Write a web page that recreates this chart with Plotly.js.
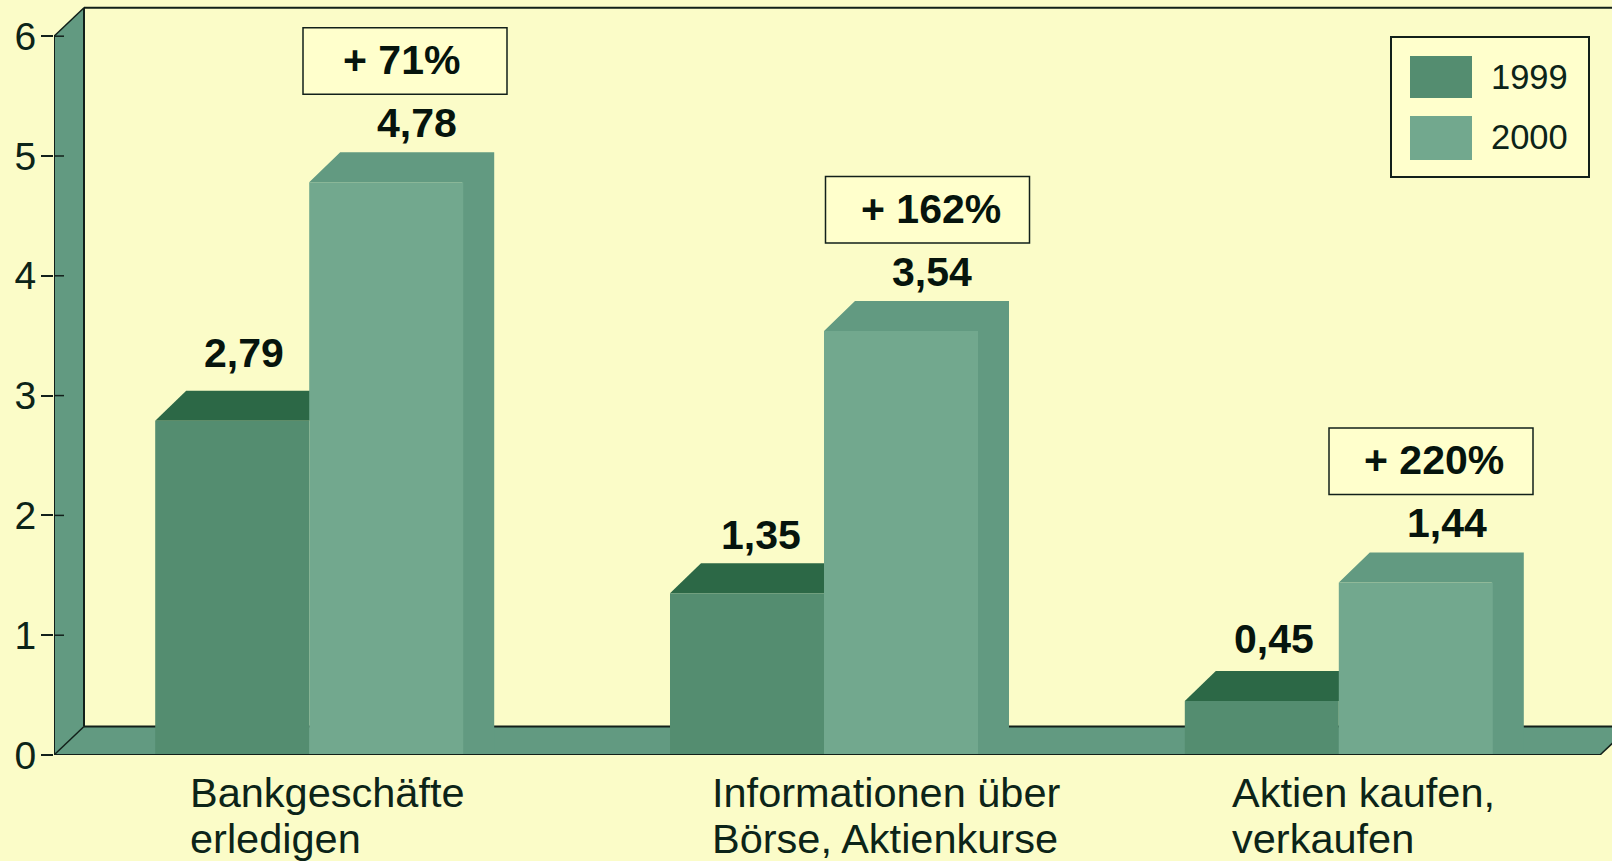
<!DOCTYPE html>
<html><head><meta charset="utf-8">
<script src="https://cdn.plot.ly/plotly-3.0.1.min.js"></script>
<style>html,body{margin:0;padding:0;background:#fbfcc8}</style></head>
<body><div id="chart" style="width:1612px;height:861px"></div>
<script>
const categories = ['Bankgeschäfte<br>erledigen', 'Informationen über<br>Börse, Aktienkurse', 'Aktien kaufen,<br>verkaufen'];
const years = ['1999', '2000'];
const values1999 = [2.79, 1.35, 0.45];
const values2000 = [4.78, 3.54, 1.44];
const changes = ['+ 71%', '+ 162%', '+ 220%'];
const yTicks = [0, 1, 2, 3, 4, 5, 6];

const W = 1612, H = 861, L = 54, T = 0, B = 106;
const yUnit = 119.8, xUnit = 514.8, x0px = 309.2;
const dx = 30 / xUnit, dy = 28.5 / yUnit, barDx = 31 / xUnit, barDy = 30 / yUnit, barW = 154 / xUnit;
const xMin = (L - x0px) / xUnit, xMax = (W - x0px) / xUnit;
const yMax = (H - B - T) / yUnit;
const px = v => xMin + (v - L) / xUnit;
const C = {bg:'#fbfcc8', box:'#ffffcc', wall:'#629a81', front99:'#548d70', top99:'#2c6846', front00:'#72a88e', ink:'#0c2418', line:'#12201a'};
const labelLeft = [187.5, 710, 1230];
const boxLeft = [303, 825.5, 1329];
const boxTextShift = [-4, 3, 3];
const label99Lift = [8, -2, 2];
const label99Shift = [12, 14, 12];

function poly(pts, fill, layer) {
  return {type:'path', xref:'x', yref:'y', layer:layer||'below', fillcolor:fill, line:{width:0},
    path:'M' + pts.map(p => p[0] + ',' + p[1]).join(' L') + ' Z'};
}
function seg(x1, y1, x2, y2, w, layer) {
  return {type:'line', xref:'x', yref:'y', layer:layer||'below', x0:x1, y0:y1, x1:x2, y1:y2, line:{color:C.line, width:w||2}};
}
const shapes = [];
const xa = px(L), xb = xa + dx, xe = px(1600);
shapes.push(poly([[xa,0],[xa,6],[xb,6+dy],[xb,dy]], C.wall));
shapes.push(poly([[xa,0],[xb,dy],[xe+dx,dy],[xe,0]], C.wall));
shapes.push(seg(xb, dy, xb, 6 + dy), seg(xb, 6 + dy, xMax, 6 + dy));
shapes.push(seg(xb, dy, xMax, dy), seg(xa, 6, xb, 6 + dy, 1.5), seg(xa, 0, xb, dy, 1.5), seg(xe, 0, xe + dx, dy, 1.5));
categories.forEach((c, i) => {
  const a = values1999[i], b = values2000[i];
  shapes.push(poly([[i-barW,a],[i-barW+barDx,a+barDy],[i+barDx,a+barDy],[i,a]], C.top99));
  shapes.push(poly([[i,b],[i+barDx,b+barDy],[i+barW+barDx,b+barDy],[i+barW+barDx,0],[i+barW-0.002,0],[i+barW-0.002,b]], C.wall));
});
shapes.push(seg(xa, 0, xa, 6, 2, 'above'), seg(xa, 0, xe, 0, 2, 'above'));
yTicks.slice(1).forEach(t => shapes.push(seg(xa, t, px(64), t, 1.5, 'above')));

const annotations = [];
const txt = (o) => Object.assign({showarrow:false, xref:'x', yref:'y'}, o);
categories.forEach((c, i) => {
  const parts = c.split('<br>');
  parts.forEach((p, k) => annotations.push(txt({x:px(labelLeft[i]), y:0, xanchor:'left', yanchor:'middle', yshift:-(37 + k*46), text:p,
    font:{family:'Liberation Sans', size:41.5, color:C.ink}})));
  const vf = {family:'Liberation Sans', size:41, color:'#06140d', weight:700};
  annotations.push(txt({x:i - barW/2 + label99Shift[i]/xUnit, y:values1999[i] + barDy, yanchor:'bottom', yshift:5 + label99Lift[i],
    text:values1999[i].toFixed(2).replace('.', ','), font:vf}));
  annotations.push(txt({x:i + barW/2 + barDx, y:values2000[i] + barDy, yanchor:'bottom', yshift:4,
    text:values2000[i].toFixed(2).replace('.', ','), font:vf}));
  const yb = values2000[i] + 88/yUnit, yt = yb + 66.5/yUnit;
  const x1 = px(boxLeft[i]), x2 = px(boxLeft[i] + 204);
  shapes.push({type:'rect', xref:'x', yref:'y', layer:'above', x0:x1, x1:x2, y0:yb, y1:yt, fillcolor:C.box, line:{color:C.line, width:1.5}});
  annotations.push(txt({x:(x1+x2)/2 + boxTextShift[i]/xUnit, y:(yb+yt)/2, yanchor:'middle', yshift:1, text:changes[i], font:vf}));
});
const py = v => (H - B - v) / yUnit;
shapes.push({type:'rect', xref:'x', yref:'y', layer:'above', x0:px(1391), x1:px(1589), y0:py(177), y1:py(37), fillcolor:C.box, line:{color:C.line, width:2}});
years.forEach((yr, k) => {
  const t = k ? 116 : 56, b = k ? 160 : 98;
  shapes.push({type:'rect', xref:'x', yref:'y', layer:'above', x0:px(1410), x1:px(1472), y0:py(b), y1:py(t), fillcolor:k ? C.front00 : C.front99, line:{width:0}});
  annotations.push(txt({x:px(1570), y:py((t+b)/2), xanchor:'right', yanchor:'middle', yshift:k ? 1 : 0, text:yr, font:{family:'Liberation Sans', size:34.5, color:C.ink}}));
});

const traces = [
  {type:'bar', name:years[0], x:categories, y:values1999, marker:{color:C.front99, line:{width:0}}, hoverinfo:'x+y'},
  {type:'bar', name:years[1], x:categories, y:values2000, marker:{color:C.front00, line:{width:0}}, hoverinfo:'x+y'}
];
const layout = {
  width:W, height:H, margin:{l:L, r:0, t:T, b:B, pad:0}, autosize:false, showlegend:false,
  paper_bgcolor:C.bg, plot_bgcolor:C.bg, barmode:'group', bargap:1 - 2*barW, bargroupgap:0,
  xaxis:{type:'category', range:[xMin, xMax], showticklabels:false, ticks:'', showgrid:false, zeroline:false, showline:false, fixedrange:true},
  yaxis:{range:[0, yMax], tickmode:'array', tickvals:yTicks, ticktext:yTicks.map(String), ticks:'outside', ticklen:12, tickwidth:1.5, tickcolor:C.line,
    ticklabelstandoff:-3, showgrid:false, zeroline:false, showline:false, fixedrange:true, tickfont:{family:'Liberation Sans', size:39, color:C.ink}},
  shapes, annotations
};
Plotly.newPlot('chart', traces, layout, {displayModeBar:false, responsive:false});
</script></body></html>
